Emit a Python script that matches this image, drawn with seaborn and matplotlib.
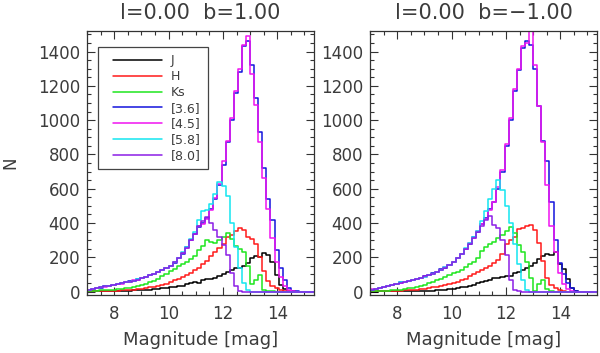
import numpy as np
import pandas as pd
import seaborn as sns
import matplotlib.pyplot as plt
from matplotlib.lines import Line2D
from matplotlib.legend_handler import HandlerLine2D
from matplotlib.ticker import MultipleLocator

bands = ['J', 'H', 'Ks', '[3.6]', '[4.5]', '[5.8]', '[8.0]']
colors = ['#000000', '#ff1a1a', '#1ee61e', '#1414dc', '#f014f0', '#14e6f0', '#8c1ee6']

# 0.15 mag bins from 7.0 to 15.4
edges = np.round(7.0 + 0.15 * np.arange(57), 3)
centers = edges[:-1] + 0.075

# ---- l=0.00 b=1.00 ----
j_p = [1, 1, 1, 2, 2, 3, 3, 4, 4, 5, 6, 7, 8, 9, 10, 12, 14, 15, 18, 20,
       24, 28, 30, 35, 42, 48, 55, 52, 65, 72, 75, 82, 90, 100, 115, 125, 135, 140, 150, 165,
       195, 205, 200, 225, 215, 175, 95, 40, 15, 5, 1, 0, 0, 0, 0, 0]
h_p = [1, 1, 2, 2, 3, 4, 5, 6, 7, 8, 10, 12, 14, 17, 20, 24, 28, 34, 40, 45,
       55, 65, 75, 85, 95, 110, 125, 140, 160, 180, 210, 230, 255, 275, 320, 330, 355, 372, 360, 320,
       305, 275, 200, 118, 62, 35, 22, 10, 4, 1, 0, 0, 0, 0, 0, 0]
ks_p = [3, 4, 5, 7, 8, 10, 12, 14, 16, 19, 22, 25, 31, 38, 46, 56, 64, 75, 88, 105,
        118, 130, 148, 160, 172, 190, 210, 240, 265, 300, 292, 285, 300, 318, 342, 305, 265, 250, 232, 150,
        45, 70, 95, 12, 3, 1, 0, 0, 0, 0, 0, 0, 0, 0, 0, 0]
i36_p = [9, 14, 19, 23, 31, 33, 39, 43, 49, 53, 59, 63, 71, 77, 87, 94, 103, 114, 126, 137,
         152, 168, 197, 222, 258, 298, 338, 378, 400, 430, 480, 540, 620, 740, 870, 1000, 1160, 1280, 1430, 1460,
         1320, 1130, 930, 720, 540, 420, 240, 135, 65, 22, 6, 1, 0, 0, 0, 0]
i45_p = [11, 13, 18, 25, 29, 35, 37, 45, 47, 55, 57, 65, 69, 79, 85, 96, 101, 116, 124, 139,
         149, 172, 193, 227, 253, 302, 333, 382, 395, 425, 475, 545, 630, 760, 880, 1010, 1170, 1300, 1440, 1490,
         1270, 1090, 870, 660, 480, 310, 170, 85, 32, 8, 2, 0, 0, 0, 0, 0]
i58_p = [10, 15, 18, 24, 30, 35, 38, 44, 49, 54, 58, 64, 71, 78, 86, 96, 103, 116, 126, 140,
         152, 172, 198, 230, 262, 305, 345, 420, 470, 475, 510, 570, 640, 615, 560, 400, 260, 140, 50, 8,
         0, 0, 0, 0, 0, 0, 0, 0, 0, 0, 0, 0, 0, 0, 0, 0]
i80_p = [10, 14, 18, 24, 30, 34, 38, 44, 48, 54, 58, 64, 70, 78, 86, 95, 102, 115, 125, 138,
         150, 170, 195, 225, 255, 300, 335, 380, 410, 435, 400, 360, 320, 270, 215, 110, 35, 5, 0, 0,
         0, 0, 0, 0, 0, 0, 0, 0, 0, 0, 0, 0, 0, 0, 0, 0]

# ---- l=0.00 b=-1.00 ----
j_m = [0, 0, 1, 1, 1, 2, 2, 2, 3, 3, 3, 4, 4, 4, 5, 6, 8, 10, 12, 14,
       17, 20, 24, 28, 32, 40, 48, 56, 62, 70, 78, 82, 85, 88, 90, 110, 115, 128, 135, 150,
       165, 190, 210, 220, 215, 232, 160, 130, 75, 20, 3, 0, 0, 0, 0, 0]
h_m = [1, 1, 2, 2, 3, 4, 5, 6, 7, 8, 10, 12, 14, 17, 20, 24, 28, 32, 38, 44,
       50, 58, 66, 75, 88, 100, 115, 128, 135, 150, 165, 185, 220, 280, 300, 320, 365, 370, 380, 390,
       360, 285, 180, 80, 40, 20, 8, 3, 0, 0, 0, 0, 0, 0, 0, 0]
ks_m = [2, 3, 4, 5, 6, 8, 10, 12, 15, 18, 21, 25, 30, 36, 48, 58, 66, 76, 86, 96,
        106, 116, 126, 142, 160, 175, 195, 235, 260, 280, 290, 315, 330, 355, 375, 340, 270, 230, 170, 80,
        5, 45, 70, 15, 2, 0, 0, 0, 0, 0, 0, 0, 0, 0, 0, 0]
i36_m = [11, 17, 21, 29, 33, 41, 45, 53, 55, 63, 67, 75, 79, 89, 95, 106, 114, 129, 139, 156,
         171, 196, 219, 251, 279, 316, 349, 396, 430, 480, 520, 600, 700, 850, 1000, 1170, 1290, 1420, 1460, 1440,
         1300, 1080, 880, 760, 520, 300, 165, 100, 50, 18, 4, 0, 0, 0, 0, 0]
i45_m = [13, 15, 23, 27, 35, 39, 47, 51, 57, 61, 69, 73, 81, 87, 97, 104, 116, 127, 141, 154,
         173, 194, 221, 249, 281, 314, 351, 394, 425, 475, 525, 610, 710, 860, 1010, 1180, 1300, 1430, 1450, 1600,
         1320, 1080, 870, 620, 380, 230, 110, 45, 15, 4, 0, 0, 0, 0, 0, 0]
i58_m = [12, 17, 21, 29, 33, 41, 45, 53, 57, 61, 69, 73, 81, 87, 97, 104, 116, 127, 141, 154,
         173, 196, 222, 252, 282, 318, 355, 410, 470, 540, 600, 650, 590, 500, 400, 280, 160, 70, 12, 0,
         0, 0, 0, 0, 0, 0, 0, 0, 0, 0, 0, 0, 0, 0, 0, 0]
i80_m = [12, 16, 22, 28, 34, 40, 46, 52, 56, 62, 68, 74, 80, 88, 96, 105, 115, 128, 140, 155,
         172, 195, 220, 250, 280, 315, 350, 380, 420, 440, 390, 370, 300, 215, 70, 12, 2, 0, 0, 0,
         0, 0, 0, 0, 0, 0, 0, 0, 0, 0, 0, 0, 0, 0, 0, 0]

titles = ['l=0.00  b=1.00', 'l=0.00  b=\u22121.00']
series = [
    [j_p, h_p, ks_p, i36_p, i45_p, i58_p, i80_p],
    [j_m, h_m, ks_m, i36_m, i45_m, i58_m, i80_m],
]
xticks = [8, 10, 12, 14]
yticks = [0, 200, 400, 600, 800, 1000, 1200, 1400]

sns.set_style('ticks')
plt.rcParams['font.family'] = ['DejaVu Sans']
txt = '#3c3c3c'

fig = plt.figure(figsize=(6, 3.53), dpi=100)
axes = [fig.add_axes([0.145, 0.1643, 0.3783, 0.7479]),
        fig.add_axes([0.6167, 0.1643, 0.3783, 0.7479])]

for ax, title, vals in zip(axes, titles, series):
    for band, col, v in zip(bands, colors, vals):
        assert len(v) == len(centers), band
        df = pd.DataFrame({'mag': centers, 'N': v})
        sns.histplot(data=df, x='mag', weights='N', bins=edges.tolist(), element='step',
                     fill=False, color=col, linewidth=1.1, ax=ax)
    ax.set_xlim(7.0, 15.35)
    ax.set_ylim(-20, 1520)
    ax.set_xticks(xticks)
    ax.set_yticks(yticks)
    ax.xaxis.set_minor_locator(MultipleLocator(0.5))
    ax.yaxis.set_minor_locator(MultipleLocator(50))
    ax.tick_params(which='both', direction='in', top=True, right=True,
                   color='#333333', labelcolor=txt, labelsize=12)
    ax.tick_params(which='major', length=6, width=0.8)
    ax.tick_params(which='minor', length=3, width=0.8)
    ax.tick_params(axis='x', pad=7)
    ax.tick_params(axis='y', pad=5)
    for s in ax.spines.values():
        s.set_color('#333333')
        s.set_linewidth(0.9)
    ax.set_xlabel('Magnitude [mag]', fontsize=13, color=txt)
    ax.xaxis.set_label_coords(0.5, -0.135)
    ax.set_ylabel('')
    ax.text(0.5, 1.07, title, transform=ax.transAxes, ha='center', va='center',
            fontsize=15, color=txt)

axes[0].set_ylabel('N', fontsize=12, color=txt)
axes[0].yaxis.set_label_coords(-0.30, 0.5)

handles = [Line2D([], [], color=c, lw=1.1) for c in colors]
leg = axes[0].legend(handles, bands, loc='upper left', bbox_to_anchor=(0.048, 0.939),
                     borderaxespad=0, fontsize=9, frameon=True, fancybox=False,
                     handlelength=4.54, handletextpad=0.72, labelspacing=0.22,
                     borderpad=0.59, labelcolor=txt,
                     handler_map={Line2D: HandlerLine2D(xpad=0.62)})
leg.get_frame().set_edgecolor('#444444')
leg.get_frame().set_linewidth(0.9)
leg.get_frame().set_alpha(1)

fig.savefig('out.png', dpi=100)
